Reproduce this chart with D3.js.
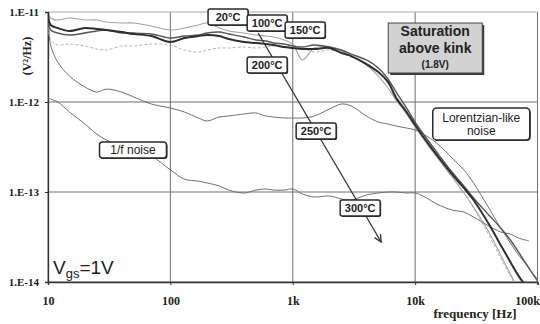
<!DOCTYPE html>
<html>
<head>
<meta charset="utf-8">
<script src="https://cdn.jsdelivr.net/npm/d3@7"></script>
<style>
  html, body { margin: 0; padding: 0; background: #fff; }
  svg { display: block; }
</style>
</head>
<body>
<svg id="chart" width="540" height="324"></svg>
<script>
// Drain-current noise spectra (V²/Hz) versus frequency, one trace per temperature.
const freq = [10, 10.5, 12, 15, 20, 25, 30, 40, 50, 70, 100, 130, 170, 200, 250, 300, 400, 500, 600, 700, 850,
  1000, 1200, 1500, 2000, 2500, 3000, 4000, 5000, 6000, 7000, 8500, 10000, 12000, 15000, 20000, 25000, 30000,
  40000, 50000, 60000, 70000, 85000, 100000];

const psd20C = [1.0e-11, 8.58e-12, 8.15e-12, 8.58e-12, 8.15e-12, 8.15e-12, 7.74e-12, 7.55e-12, 7.55e-12, 6.99e-12,
  6.31e-12, 6.64e-12, 7.17e-12, 7.55e-12, 6.64e-12, 6.15e-12, 5.84e-12, 5.55e-12, 5.41e-12, 5.27e-12, 4.89e-12,
  4.41e-12, 2.93e-12, 3.98e-12, 4.08e-12, 3.69e-12, 3.24e-12, 2.58e-12, 1.94e-12, 1.43e-12, 1.05e-12, 7.36e-13,
  5.27e-13, 3.69e-13, 2.45e-13, 1.47e-13, 9.75e-14, 6.81e-14, 3.59e-14, 2.0e-14, 1.23e-14, 8.15e-15, null, null];

const psd100C = [1.0e-11, 7.17e-12, 6.64e-12, 6.15e-12, 6.64e-12, 6.47e-12, 6.31e-12, 5.99e-12, 5.70e-12, 5.41e-12,
  4.64e-12, 5.14e-12, 5.41e-12, 5.55e-12, 5.41e-12, 5.01e-12, 4.64e-12, 4.53e-12, 4.41e-12, 4.30e-12, 4.08e-12,
  3.98e-12, 3.88e-12, 3.88e-12, 3.98e-12, 3.50e-12, 3.24e-12, 2.64e-12, 2.15e-12, 1.67e-12, 1.11e-12, 7.74e-13,
  5.55e-13, 3.88e-13, 2.58e-13, 1.58e-13, 1.11e-13, 8.15e-14, 4.41e-14, 2.58e-14, 1.67e-14, 1.17e-14, 8.15e-15, null];

const psd150C = [1.0e-11, 6.31e-12, 5.84e-12, 5.55e-12, 5.84e-12, 6.15e-12, 6.31e-12, 5.84e-12, 5.84e-12, 5.70e-12,
  5.14e-12, 5.41e-12, 5.55e-12, 5.84e-12, 5.99e-12, 5.70e-12, 5.27e-12, 4.89e-12, 4.76e-12, 4.53e-12, 4.41e-12,
  4.19e-12, 4.08e-12, 4.30e-12, 4.08e-12, 3.78e-12, 3.41e-12, 2.93e-12, 2.39e-12, 1.80e-12, 1.29e-12, 8.58e-13,
  5.99e-13, 4.19e-13, 2.78e-13, 1.67e-13, 1.17e-13, 8.58e-14, 5.55e-14, 3.98e-14, 2.93e-14, 2.15e-14, 1.43e-14, 1.05e-14];

const psd200C = [1.0e-11, 4.89e-12, 4.30e-12, 4.41e-12, 4.19e-12, 3.88e-12, 3.78e-12, 4.19e-12, 4.19e-12, 4.41e-12,
  4.30e-12, 3.78e-12, 3.59e-12, 3.78e-12, 3.98e-12, 3.98e-12, 4.08e-12, 3.98e-12, 4.08e-12, 4.19e-12, 4.08e-12,
  4.19e-12, 3.98e-12, 3.59e-12, 3.78e-12, 3.50e-12, 3.16e-12, 2.71e-12, 2.15e-12, 1.63e-12, 1.17e-12, 8.15e-13,
  5.70e-13, 3.88e-13, 2.51e-13, 1.51e-13, 9.75e-14, 6.64e-14, 3.33e-14, 1.85e-14, 1.17e-14, 8.15e-15, null, null];

const psd250C = [9.50e-12, 4.30e-12, 2.78e-12, 1.94e-12, 1.47e-12, 1.29e-12, 1.39e-12, 1.29e-12, 1.14e-12, 9.50e-13,
  8.58e-13, 7.74e-13, 6.64e-13, 6.15e-13, 6.81e-13, 6.99e-13, 7.36e-13, 7.55e-13, 6.99e-13, 6.81e-13, 6.64e-13,
  6.64e-13, 6.64e-13, 6.99e-13, 8.36e-13, 9.50e-13, 9.03e-13, 6.99e-13, 5.99e-13, 5.70e-13, 5.41e-13, 5.14e-13,
  4.89e-13, 4.30e-13, 3.50e-13, 2.39e-13, 1.76e-13, 1.26e-13, 6.64e-14, 3.98e-14, 2.71e-14, 2.0e-14, 1.43e-14, 1.0e-14];

const psd300C = [1.11e-12, 1.08e-12, 1.0e-12, 7.74e-13, 5.70e-13, 4.41e-13, 3.78e-13, 3.24e-13, 2.93e-13, 2.51e-13,
  1.76e-13, 1.39e-13, 1.32e-13, 1.26e-13, 1.17e-13, 1.05e-13, 9.75e-14, 1.05e-13, 1.08e-13, 1.05e-13, 1.05e-13,
  1.08e-13, 9.50e-14, 8.80e-14, 9.03e-14, 8.36e-14, 8.15e-14, 9.26e-14, 9.75e-14, 1.0e-13, 1.0e-13, 9.75e-14,
  9.75e-14, 8.80e-14, 7.36e-14, 6.31e-14, 5.99e-14, 5.27e-14, 4.19e-14, 3.59e-14, 3.41e-14, 3.08e-14, 2.86e-14, null];

const xTicks = [10, 100, 1000, 10000, 100000];
const xTickLabels = ["10", "100", "1k", "10k", "100k"];
const yTicks = [1e-14, 1e-13, 1e-12, 1e-11];
const yTickLabels = ["1.E-14", "1.E-13", "1.E-12", "1.E-11"];

(function () {
  // Trace styling
  const series = [
    { values: psd20C,  color: "#a2a2a2", width: 1.1, dash: null },
    { values: psd200C, color: "#b4b4b4", width: 1.0, dash: "3,2" },
    { values: psd300C, color: "#707070", width: 1.0, dash: null },
    { values: psd250C, color: "#707070", width: 1.0, dash: null },
    { values: psd150C, color: "#555555", width: 1.4, dash: null },
    { values: psd100C, color: "#2e2e2e", width: 2.0, dash: null }
  ];

  const serif = "'Liberation Serif', 'Times New Roman', serif";
  const sans = "'Liberation Sans', Arial, sans-serif";

  const svg = d3.select("#chart");
  const pl = 48, pr = 537.5, pt = 12, pb = 282;

  const x = d3.scaleLog().domain([10, 100000]).range([pl, pr]);
  const y = d3.scaleLog().domain([1e-14, 1e-11]).range([pb, pt]);

  // Grid lines
  const grid = svg.append("g");
  grid.selectAll("line.v").data(xTicks).join("line")
    .attr("x1", d => x(d)).attr("x2", d => x(d))
    .attr("y1", pt).attr("y2", pb)
    .attr("stroke", "#6f6f6f").attr("stroke-width", 1);
  grid.selectAll("line.h").data(yTicks).join("line")
    .attr("x1", pl).attr("x2", pr)
    .attr("y1", d => y(d)).attr("y2", d => y(d))
    .attr("stroke", (d, i) => i === yTicks.length - 1 ? "#a8a8a8" : "#6f6f6f")
    .attr("stroke-width", 1);

  // Left and bottom axes
  const yAxis = d3.axisLeft(y).tickValues(yTicks)
    .tickFormat((d, i) => yTickLabels[i]).tickSize(3).tickPadding(6);
  const gy = svg.append("g").attr("transform", `translate(${pl},0)`).call(yAxis);
  gy.select(".domain").attr("stroke", "#333").attr("stroke-width", 1.3);
  gy.selectAll(".tick line").attr("stroke", "#333");
  gy.selectAll(".tick text").attr("font-family", serif).attr("font-weight", "bold")
    .attr("font-size", 11).attr("fill", "#222");

  const xAxis = d3.axisBottom(x).tickValues(xTicks)
    .tickFormat((d, i) => xTickLabels[i]).tickSize(3).tickPadding(11);
  const gx = svg.append("g").attr("transform", `translate(0,${pb})`).call(xAxis);
  gx.select(".domain").attr("stroke", "#333").attr("stroke-width", 1.3);
  gx.selectAll(".tick line").attr("stroke", "#333");
  gx.selectAll(".tick text").attr("font-family", serif).attr("font-weight", "bold")
    .attr("font-size", 12).attr("fill", "#222");
  // keep the last frequency label inside the right edge
  gx.selectAll(".tick text").filter((d, i) => i === xTicks.length - 1)
    .attr("text-anchor", "end").attr("dx", 2);

  // Traces, clipped to the plotting window
  svg.append("clipPath").attr("id", "plotClip").append("rect")
    .attr("x", pl).attr("y", pt).attr("width", pr - pl).attr("height", pb - pt);

  const line = d3.line()
    .defined(d => d.v != null)
    .x(d => x(d.f)).y(d => y(d.v))
    .curve(d3.curveCatmullRom.alpha(0.5));

  const traces = svg.append("g").attr("clip-path", "url(#plotClip)");
  series.forEach(s => {
    const pts = freq.map((f, i) => ({ f, v: s.values[i] }));
    traces.append("path").datum(pts)
      .attr("d", line)
      .attr("fill", "none")
      .attr("stroke", s.color)
      .attr("stroke-width", s.width)
      .attr("stroke-dasharray", s.dash)
      .attr("stroke-linejoin", "round");
  });

  // Temperature arrow
  const arrowFrom = { f: 521, v: 5.84e-12 };
  const arrowTo = { f: 5280, v: 2.78e-14 };
  const ax1 = x(arrowFrom.f), ay1 = y(arrowFrom.v), ax2 = x(arrowTo.f), ay2 = y(arrowTo.v);
  svg.append("line").attr("x1", ax1).attr("y1", ay1).attr("x2", ax2).attr("y2", ay2)
    .attr("stroke", "#333").attr("stroke-width", 1.3);
  const ang = Math.atan2(ay2 - ay1, ax2 - ax1);
  const headLen = 8, headSpread = 0.45;
  svg.append("path")
    .attr("d", `M${ax2 - headLen * Math.cos(ang - headSpread)},${ay2 - headLen * Math.sin(ang - headSpread)}
                L${ax2},${ay2}
                L${ax2 - headLen * Math.cos(ang + headSpread)},${ay2 - headLen * Math.sin(ang + headSpread)}`)
    .attr("fill", "none").attr("stroke", "#333").attr("stroke-width", 1.3);

  // Boxed labels
  function boxLabel(cx, cy, w, h, lines, opts) {
    const g = svg.append("g");
    if (opts.shadow) {
      g.append("rect").attr("x", cx - w / 2 + opts.shadow).attr("y", cy - h / 2 + opts.shadow)
        .attr("width", w).attr("height", h).attr("rx", opts.rx || 0).attr("fill", "#3a3a3a");
    }
    g.append("rect").attr("x", cx - w / 2).attr("y", cy - h / 2)
      .attr("width", w).attr("height", h).attr("rx", opts.rx || 0)
      .attr("fill", opts.fill || "#fff").attr("stroke", opts.stroke || "#2a2a2a")
      .attr("stroke-width", opts.strokeWidth || 1.3);
    lines.forEach(l => {
      g.append("text").attr("x", cx).attr("y", cy + l.dy)
        .attr("text-anchor", "middle")
        .attr("font-family", sans).attr("font-size", l.size)
        .attr("font-weight", l.bold ? "bold" : "normal")
        .attr("fill", "#222").text(l.text);
    });
  }

  const tempLabels = [
    { text: "20°C",  f: 296,  v: 8.8e-12 },
    { text: "100°C", f: 618,  v: 7.55e-12 },
    { text: "150°C", f: 1263, v: 6.31e-12 },
    { text: "200°C", f: 618,  v: 2.58e-12 },
    { text: "250°C", f: 1553, v: 4.76e-13 },
    { text: "300°C", f: 3557, v: 6.64e-14 }
  ];
  tempLabels.forEach(t => {
    boxLabel(x(t.f), y(t.v), 40, 16, [{ text: t.text, dy: 4, size: 11, bold: true }],
      { rx: 2, strokeWidth: 1.5, shadow: 1 });
  });

  boxLabel(x(14600), y(3.98e-12), 94, 50, [
    { text: "Saturation", dy: -12, size: 14, bold: true },
    { text: "above kink", dy: 5, size: 14, bold: true },
    { text: "(1.8V)", dy: 20, size: 10, bold: true }
  ], { fill: "#d2d2d2", stroke: "#444", strokeWidth: 1, shadow: 2 });

  boxLabel(x(34700), y(5.70e-13), 97, 32, [
    { text: "Lorentzian-like", dy: -2, size: 12, bold: false },
    { text: "noise", dy: 11, size: 12, bold: false }
  ], { rx: 4, strokeWidth: 1.5, shadow: 1 });

  boxLabel(x(49.5), y(2.93e-13), 67, 16, [
    { text: "1/f noise", dy: 4.5, size: 12, bold: false }
  ], { rx: 3, strokeWidth: 1.5, shadow: 1 });

  // Bias condition
  const vgs = svg.append("text").attr("x", pl + 5).attr("y", pb - 8)
    .attr("font-family", sans).attr("font-size", 19).attr("fill", "#222");
  vgs.append("tspan").text("V");
  vgs.append("tspan").attr("font-size", 13).attr("dy", 4).text("gs");
  vgs.append("tspan").attr("dy", -4).text("=1V");

  // Axis titles
  svg.append("text").attr("transform", "translate(31,56) rotate(-90)")
    .attr("text-anchor", "middle")
    .attr("font-family", serif).attr("font-weight", "bold").attr("font-size", 12).attr("fill", "#222")
    .text("(V²/Hz)");
  svg.append("text").attr("x", 475).attr("y", 318).attr("text-anchor", "middle")
    .attr("font-family", serif).attr("font-weight", "bold").attr("font-size", 13).attr("fill", "#222")
    .text("frequency [Hz]");
})();
</script>
</body>
</html>
